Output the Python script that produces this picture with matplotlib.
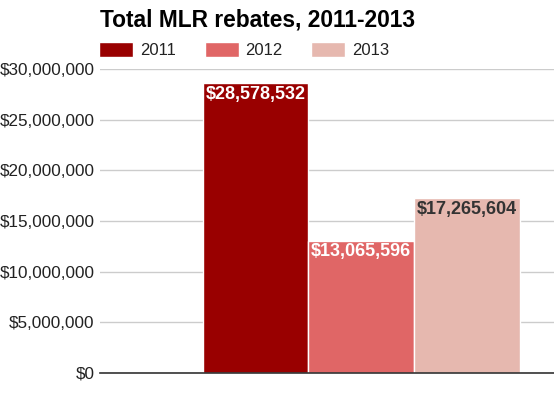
import matplotlib
matplotlib.use("Agg")
from matplotlib import pyplot as plt
from matplotlib.ticker import FuncFormatter
import numpy as np

# data
years = ["2011", "2012", "2013"]
rebates = [28578532, 13065596, 17265604]
colors = ["#990000", "#e06666", "#e6b8af"]
label_colors = ["#ffffff", "#ffffff", "#333333"]
yticks = [0, 5000000, 10000000, 15000000, 20000000, 25000000, 30000000]

plt.rcParams['font.family'] = ['Liberation Sans', 'DejaVu Sans']

W, H = 554, 399
fig = plt.figure(figsize=(W / 100, H / 100), dpi=100)
ax = fig.add_axes([100 / W, 1 - 373 / H, 1 - 100 / W, (373 - 69) / H])

x = np.arange(len(years)) - 1
bars = ax.bar(x, rebates, width=1.0, color=colors, edgecolor="white",
              linewidth=1.0, label=years, zorder=3)

for b, v, c in zip(bars, rebates, label_colors):
    ax.annotate("${:,}".format(v), (b.get_x() + b.get_width() / 2, v),
                xytext=(0, -11), textcoords="offset pixels",
                ha="center", va="center", fontsize=13, fontweight="bold",
                color=c, zorder=4)

ax.set_xlim(-2.47, 1.826)
ax.set_ylim(0, 30000000)
ax.set_yticks(yticks)
ax.yaxis.set_major_formatter(FuncFormatter(lambda v, p: "${:,.0f}".format(v)))
ax.tick_params(axis="y", length=0, labelsize=12.3, labelcolor="#222222", pad=4)
ax.set_xticks([])
ax.grid(axis="y", color="#cccccc", linewidth=1, zorder=0)
for s in ["top", "right", "left"]:
    ax.spines[s].set_visible(False)
ax.spines["bottom"].set_color("#333333")
ax.spines["bottom"].set_linewidth(1.2)
ax.spines["bottom"].set_zorder(5)

fig.text(100 / W, 1 - 20 / H, "Total MLR rebates, 2011-2013", ha="left",
         va="center", fontsize=16.4, fontweight="bold", color="#000000")

fig.legend(handles=list(bars), labels=years, loc="center left",
           bbox_to_anchor=(99 / W, 1 - 50 / H), ncol=3, frameon=False,
           fontsize=12, handlelength=2.04, handleheight=1.05,
           handletextpad=0.4, columnspacing=1.74, borderpad=0,
           borderaxespad=0, labelcolor="#222222")

fig.savefig("out.png", dpi=100)
